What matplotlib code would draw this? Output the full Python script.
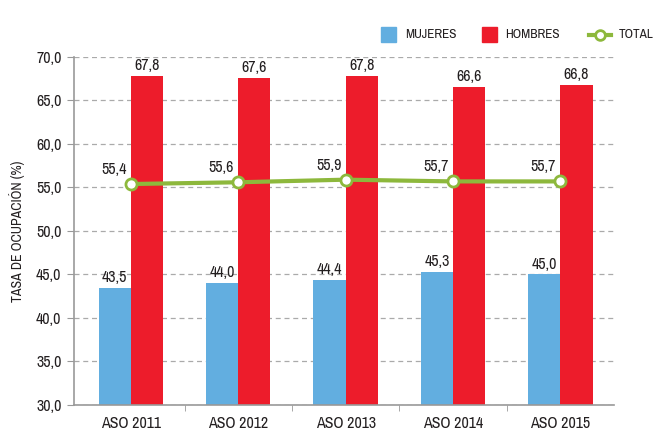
import matplotlib
matplotlib.use("Agg")
import matplotlib.pyplot as plt
import numpy as np
from matplotlib.lines import Line2D
from matplotlib.patches import Rectangle

categories = ["ASO 2011", "ASO 2012", "ASO 2013", "ASO 2014", "ASO 2015"]
mujeres = [43.5, 44.0, 44.4, 45.3, 45.0]
hombres = [67.8, 67.6, 67.8, 66.6, 66.8]
total = [55.4, 55.6, 55.9, 55.7, 55.7]
legend_labels = ["MUJERES", "HOMBRES", "TOTAL"]

plt.rcParams['font.family'] = ['Archivo Narrow', 'DejaVu Sans']

blue = "#62aee0"
red = "#ed1c2b"
green = "#8db83c"
txt = "#231f20"
W, H = 655, 432

fig = plt.figure(figsize=(6.55, 4.32), dpi=100)
ax = fig.add_axes([74 / W, 27 / H, 540 / W, 348 / H])

x = np.arange(len(categories))
w = 0.3
ax.bar(x - w/2, mujeres, w, color=blue, zorder=2)
ax.bar(x + w/2, hombres, w, color=red, zorder=2)
ax.plot(x, total, color=green, lw=3, marker='o', ms=8, mfc='white', mec=green, mew=2, zorder=4)

fs = 11.5
fmt = lambda v: f"{v:.1f}".replace('.', ',')
for xi, v in zip(x, mujeres):
    ax.annotate(fmt(v), (xi - w/2, v), xytext=(0, 2), textcoords='offset points',
                ha='center', va='bottom', fontsize=fs, color=txt)
for xi, v in zip(x, hombres):
    ax.annotate(fmt(v), (xi + w/2, v), xytext=(0, 2), textcoords='offset points',
                ha='center', va='bottom', fontsize=fs, color=txt)
for xi, v in zip(x, total):
    ax.annotate(fmt(v), (xi, v), xytext=(-3, 5), textcoords='offset points',
                ha='right', va='bottom', fontsize=fs, color=txt)

ax.set_ylim(30, 70)
ax.set_xlim(-0.53, 4.5)
yt = np.arange(30, 71, 5)
ax.set_yticks(yt)
ax.set_yticklabels([fmt(v) for v in yt], fontsize=fs, color=txt)
ax.set_xticks(x)
ax.set_xticklabels(categories, fontsize=fs, color=txt)
ax.tick_params(axis='x', length=0, pad=8)
ax.tick_params(axis='y', length=5, color='#999999', pad=4)
ax.set_xticks(np.arange(0.5, 4.5, 1), minor=True)
ax.tick_params(axis='x', which='minor', length=4, color='#999999')
ax.grid(axis='y', linestyle=(0, (4, 3)), color='#aaaaaa', lw=0.9, zorder=0)
for s in ['top', 'right']:
    ax.spines[s].set_visible(False)
for s in ['left', 'bottom']:
    ax.spines[s].set_color('#999999')
    ax.spines[s].set_linewidth(1.2)
ax.set_ylabel("TASA DE OCUPACIÓN (%)", fontsize=10, color=txt, labelpad=8)

def fx(px): return px / W
def fy(py): return 1 - py / H
fig.add_artist(Rectangle((fx(381), fy(42)), 15 / W, 15 / H, color=blue, transform=fig.transFigure))
fig.text(fx(405), fy(34.5), legend_labels[0], fontsize=9.5, color=txt, va='center', ha='left')
fig.add_artist(Rectangle((fx(482), fy(42)), 15 / W, 15 / H, color=red, transform=fig.transFigure))
fig.text(fx(505), fy(34.5), legend_labels[1], fontsize=9.5, color=txt, va='center', ha='left')
fig.add_artist(Line2D([fx(589), fx(611)], [fy(35), fy(35)], color=green, lw=3, transform=fig.transFigure))
fig.add_artist(Line2D([fx(600)], [fy(35)], marker='o', ms=7, mfc='white', mec=green, mew=2, transform=fig.transFigure))
fig.text(fx(619), fy(34.5), legend_labels[2], fontsize=9.5, color=txt, va='center', ha='left')

fig.savefig("out.png", dpi=100)
